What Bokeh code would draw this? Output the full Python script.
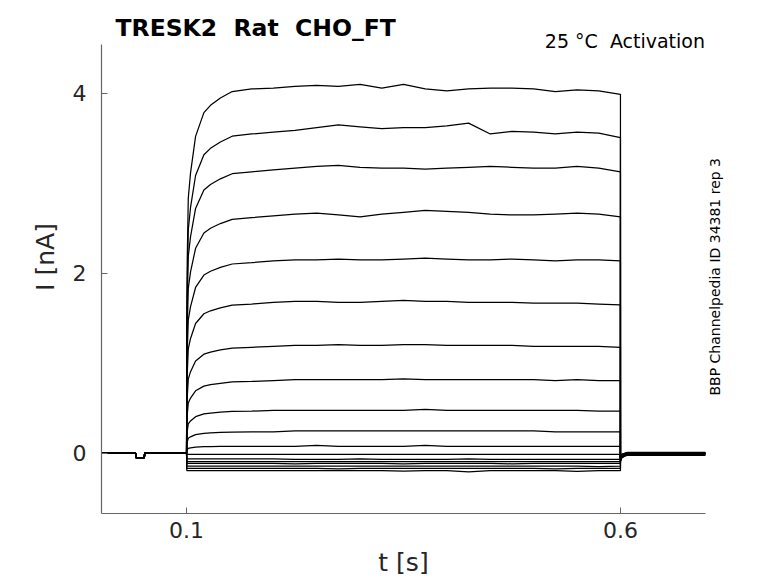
from bokeh.plotting import figure
from bokeh.models import Range1d, FixedTicker, Label, ColumnDataSource, LinearAxis, Title
from bokeh.embed import file_html
from bokeh.resources import INLINE

# ---------------- data ----------------
title_text = "TRESK2 \u00a0Rat \u00a0CHO_FT"
condition_text = "25 °C \u00a0Activation"
source_text = "BBP Channelpedia ID 34381 rep 3"
x_label = "t [s]"
y_label = "I [nA]"

x_ticks = [0.1, 0.6]
y_ticks = [0, 2, 4]
x_extent = (0.002, 0.698)
y_extent = (-0.667, 4.544)

# holding period before the step (common to all sweeps)
pre_t = [0.002, 0.0413, 0.0416, 0.0514, 0.0517, 0.1]
pre_i = [0.003, 0.003, -0.045, -0.045, 0.003, 0.003]

# activation time course (fraction of the first plateau value)
act_t = [0.1, 0.1003, 0.1008, 0.102, 0.1046, 0.1104, 0.12, 0.1276, 0.139, 0.1526]
act_frac = [0.0, 0.35, 0.53, 0.70, 0.77, 0.87, 0.935, 0.955, 0.975, 0.993]

# plateau sample times during the step
plateau_t = [0.175, 0.2, 0.225, 0.25, 0.275, 0.3, 0.325, 0.35, 0.375,
             0.4, 0.425, 0.45, 0.475, 0.5, 0.525, 0.55, 0.575, 0.6]

sweep_1 = [4.05, 4.06, 4.08, 4.09, 4.08, 4.10, 4.06, 4.10, 4.05, 4.03, 4.05, 4.06, 4.06, 4.05, 4.02, 4.04, 4.03, 3.99]
sweep_2 = [3.55, 3.57, 3.59, 3.62, 3.65, 3.63, 3.61, 3.62, 3.62, 3.64, 3.67, 3.55, 3.58, 3.57, 3.55, 3.57, 3.56, 3.51]
sweep_3 = [3.13, 3.15, 3.17, 3.19, 3.20, 3.18, 3.17, 3.17, 3.16, 3.17, 3.18, 3.19, 3.18, 3.17, 3.17, 3.19, 3.17, 3.13]
sweep_4 = [2.62, 2.64, 2.66, 2.67, 2.65, 2.63, 2.66, 2.68, 2.70, 2.69, 2.68, 2.66, 2.65, 2.65, 2.66, 2.67, 2.66, 2.63]
sweep_5 = [2.12, 2.14, 2.15, 2.15, 2.16, 2.15, 2.15, 2.16, 2.17, 2.16, 2.15, 2.15, 2.16, 2.15, 2.14, 2.15, 2.15, 2.14]
sweep_6 = [1.66, 1.68, 1.69, 1.69, 1.68, 1.68, 1.69, 1.70, 1.69, 1.69, 1.68, 1.68, 1.68, 1.67, 1.67, 1.67, 1.66, 1.65]
sweep_7 = [1.18, 1.19, 1.20, 1.20, 1.21, 1.20, 1.20, 1.21, 1.21, 1.20, 1.20, 1.20, 1.20, 1.19, 1.19, 1.19, 1.19, 1.18]
sweep_8 = [0.80, 0.81, 0.82, 0.82, 0.82, 0.82, 0.82, 0.83, 0.82, 0.82, 0.82, 0.82, 0.82, 0.82, 0.81, 0.82, 0.81, 0.81]
sweep_9 = [0.47, 0.48, 0.48, 0.48, 0.48, 0.48, 0.48, 0.48, 0.49, 0.48, 0.48, 0.48, 0.48, 0.48, 0.48, 0.48, 0.47, 0.47]
sweep_10 = [0.24, 0.24, 0.25, 0.25, 0.25, 0.25, 0.25, 0.25, 0.25, 0.25, 0.25, 0.25, 0.25, 0.25, 0.24, 0.24, 0.24, 0.24]
sweep_11 = [0.08, 0.08, 0.08, 0.09, 0.08, 0.08, 0.08, 0.08, 0.09, 0.08, 0.08, 0.08, 0.08, 0.08, 0.08, 0.08, 0.08, 0.08]
sweep_12 = [-0.01, -0.01, -0.01, -0.01, -0.01, -0.01, -0.01, -0.01, -0.01, -0.01, -0.01, -0.01, -0.01, -0.01, -0.01, -0.01, -0.01, -0.01]
sweep_13 = [-0.06, -0.06, -0.065, -0.065, -0.065, -0.06, -0.065, -0.065, -0.065, -0.065, -0.06, -0.065, -0.065, -0.065, -0.065, -0.065, -0.065, -0.065]
sweep_14 = [-0.09, -0.09, -0.09, -0.09, -0.09, -0.09, -0.09, -0.09, -0.09, -0.09, -0.09, -0.09, -0.09, -0.09, -0.09, -0.09, -0.09, -0.09]
sweep_15 = [-0.11, -0.11, -0.115, -0.11, -0.11, -0.11, -0.11, -0.115, -0.11, -0.11, -0.11, -0.11, -0.115, -0.11, -0.11, -0.11, -0.11, -0.11]
sweep_16 = [-0.14, -0.14, -0.14, -0.14, -0.14, -0.14, -0.14, -0.14, -0.14, -0.14, -0.14, -0.14, -0.14, -0.14, -0.14, -0.14, -0.145, -0.14]
sweep_17 = [-0.165, -0.165, -0.165, -0.165, -0.17, -0.165, -0.165, -0.165, -0.165, -0.165, -0.165, -0.165, -0.165, -0.165, -0.17, -0.165, -0.165, -0.165]
sweep_18 = [-0.19, -0.19, -0.19, -0.19, -0.19, -0.19, -0.19, -0.195, -0.19, -0.19, -0.205, -0.19, -0.19, -0.19, -0.19, -0.2, -0.19, -0.19]

sweeps = [sweep_1, sweep_2, sweep_3, sweep_4, sweep_5, sweep_6, sweep_7, sweep_8, sweep_9,
          sweep_10, sweep_11, sweep_12, sweep_13, sweep_14, sweep_15, sweep_16, sweep_17, sweep_18]

# tail after the step: first value per sweep, then relaxation to the holding level
tail_t = [0.6, 0.6015, 0.604, 0.608, 0.614, 0.698]
tail_start = [-0.09, -0.085, -0.08, -0.075, -0.07, -0.06, -0.055, -0.05, -0.045,
              -0.04, -0.035, -0.03, -0.03, -0.025, -0.025, -0.02, -0.02, -0.02]
tail_mid = [-0.05, -0.045, -0.045, -0.04, -0.04, -0.035, -0.03, -0.03, -0.025,
            -0.025, -0.02, -0.02, -0.02, -0.015, -0.015, -0.015, -0.01, -0.01]
hold_after = [-0.02, -0.015, -0.012, -0.01, -0.008, -0.005, -0.003, 0.0, 0.002,
              0.004, 0.006, 0.008, 0.01, 0.012, -0.018, -0.012, 0.0, 0.005]

# ---------------- build sweep polylines ----------------
xs, ys = [], []
for k, sw in enumerate(sweeps):
    tx = list(pre_t)
    iy = list(pre_i)
    for t, f in zip(act_t, act_frac):
        tx.append(t)
        if sw[0] > 0:
            iy.append(max(f * sw[0], pre_i[-1]))
        else:
            iy.append(sw[0] if t > 0.1 else pre_i[-1])
    tx += plateau_t
    iy += sw
    tx += tail_t
    iy += [tail_start[k], tail_mid[k], (tail_mid[k] + hold_after[k]) / 2,
           hold_after[k], hold_after[k], hold_after[k]]
    xs.append(tx)
    ys.append(iy)

src = ColumnDataSource(data=dict(xs=xs, ys=ys))

FONT = "DejaVu Sans"
W, H = 778, 583
FRAME_L, FRAME_R, FRAME_T, FRAME_B = 101, 705, 0, 513   # frame in canvas pixels
AX_T = 44                                               # top of visible y axis

px_per_x = (FRAME_R - FRAME_L) / (x_extent[1] - x_extent[0])
px_per_y = (FRAME_B - AX_T) / (y_extent[1] - y_extent[0])
y_end = y_extent[1] + (AX_T - FRAME_T) / px_per_y

p = figure(width=W, height=H, output_backend="svg", toolbar_location=None,
           x_range=Range1d(*x_extent), y_range=Range1d(y_extent[0], y_end),
           min_border_left=FRAME_L, min_border_right=W - FRAME_R,
           min_border_top=FRAME_T, min_border_bottom=H - FRAME_B)
p.outline_line_color = None
p.xgrid.visible = False
p.ygrid.visible = False
p.background_fill_color = "white"
p.border_fill_color = "white"

p.multi_line(xs="xs", ys="ys", source=src, line_color="black", line_width=1.25)

for ax in (p.xaxis[0], p.yaxis[0]):
    ax.axis_line_color = "#666666"
    ax.axis_line_width = 1.2
    ax.major_tick_line_color = "#666666"
    ax.major_tick_in = 6
    ax.major_tick_out = 0
    ax.minor_tick_line_color = None
    ax.major_label_text_font = FONT
    ax.major_label_text_font_size = "22px"
    ax.major_label_text_color = "#262626"
    ax.axis_label_text_font = FONT
    ax.axis_label_text_font_size = "25px"
    ax.axis_label_text_font_style = "normal"
    ax.axis_label_text_color = "#262626"

p.yaxis.bounds = y_extent
p.xaxis.ticker = FixedTicker(ticks=x_ticks)
p.yaxis.ticker = FixedTicker(ticks=y_ticks)
p.xaxis.major_label_standoff = 8
p.yaxis.major_label_standoff = 15
p.yaxis.axis_label = y_label
p.yaxis.axis_label_standoff = 10

# x-axis title, placed below the tick labels
p.add_layout(Title(text=x_label, align="center", text_font=FONT, text_font_size="25px",
                   text_font_style="normal", text_color="#262626", standoff=11), "below")

# source note on the right, reading bottom to top (anchored at its lower end)
src_pos = 0.644
side = LinearAxis(ticker=FixedTicker(ticks=[src_pos]),
                  major_label_overrides={src_pos: source_text},
                  major_label_orientation=1.5707963,
                  axis_line_color=None, major_tick_line_color=None,
                  minor_tick_line_color=None, major_tick_in=0, major_tick_out=0,
                  major_label_standoff=10, major_label_text_font=FONT,
                  major_label_text_font_size="14px", major_label_text_color="black")
p.add_layout(side, "right")

def xd(px):
    return x_extent[0] + (px - FRAME_L) / px_per_x

def yd(py):
    return y_extent[0] + (FRAME_B - py) / px_per_y

p.add_layout(Label(x=xd(115), y=yd(27.5), text=title_text, text_align="left",
                   text_baseline="alphabetic", text_font=FONT, text_font_size="23.5px",
                   text_font_style="bold", text_color="black"))
p.add_layout(Label(x=xd(704.5), y=yd(40), text=condition_text, text_align="right",
                   text_baseline="middle", text_font=FONT, text_font_size="19px",
                   text_color="black"))

open("out.html", "w").write(file_html(p, INLINE))
